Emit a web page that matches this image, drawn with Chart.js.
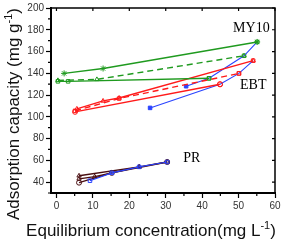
<!DOCTYPE html>
<html>
<head>
<meta charset="utf-8">
<script src="https://cdn.jsdelivr.net/npm/chart.js@4"></script>
<style>
  html, body { margin: 0; padding: 0; background: #fff; }
  #wrap { width: 283px; height: 240px; }
</style>
</head>
<body>
<div id="wrap"><canvas id="chart" width="283" height="240"></canvas></div>
<script>
// tick values
const xTicks = [0, 10, 20, 30, 40, 50, 60];
const yTicks = [40, 60, 80, 100, 120, 140, 160, 180, 200];

// MY10 (green)
const my10Star = [[2.1, 139.9], [12.8, 144.4], [55.1, 168.8]];
const my10Dash = [[0.4, 133.5], [11.1, 134.4], [51.5, 156.1]];
const my10Low = [[0.4, 132.6], [3.2, 132.6], [41.9, 135.4]];

// EBT (red)
const ebtUpper = [[5.6, 107.3], [12.8, 114.6], [17.2, 117.3], [54.0, 151.6]];
const ebtDash = [[5.1, 105.5], [17.2, 116.8], [50.1, 139.9]];
const ebtLow = [[5.1, 104.6], [44.9, 129.9]];

// blue connecting series
const blueLow = [[25.7, 108.2], [44.9, 129.9], [50.1, 139.9], [54.0, 151.6]];
const blueHigh = [[35.6, 128.1], [41.9, 135.4], [51.5, 156.1], [55.1, 168.8]];

// PR (dark brown + blue)
const prTri = [[6.2, 45.8], [22.7, 54.0], [30.4, 58.5]];
const prCirc = [[6.2, 39.5], [15.2, 48.5], [30.4, 58.5]];
const prMid = [[6.2, 43.0], [10.5, 45.0], [22.7, 54.0]];
const prBlue = [[9.2, 41.3], [15.2, 48.5], [22.7, 54.0], [30.4, 58.5]];

const GREEN = '#1f9a1f';
const RED = '#ff1a1a';
const BLUE = '#2a44ff';
const BROWN = '#4a0f12';

function pts(arr) {
    return arr.map(p => ({ x: p[0], y: p[1] }));
}

function series(arr, color, style, opts = {}) {
    return Object.assign({
        data: pts(arr),
        showLine: true,
        borderColor: color,
        backgroundColor: 'rgba(255,255,255,0)',
        pointBorderColor: color,
        pointBackgroundColor: 'rgba(255,255,255,0)',
        pointStyle: style,
        pointRadius: 2.5,
        pointBorderWidth: 1,
        borderWidth: 1.4,
        tension: 0
    }, opts);
}

const datasets = [
    series(my10Star, GREEN, 'star', { pointRadius: 3 }),
    series(my10Dash, GREEN, 'triangle', { borderDash: [6, 4] }),
    series(my10Low, GREEN, 'rect'),
    series(ebtUpper, RED, 'triangle'),
    series(ebtDash, RED, 'rect', { borderDash: [6, 4] }),
    series(ebtLow, RED, 'circle'),
    series(blueLow, BLUE, 'rect', { borderWidth: 1.1, pointRadius: [2.5, 0, 0, 0], pointBackgroundColor: BLUE }),
    series(blueHigh, BLUE, 'rect', { borderWidth: 1.1, pointRadius: [2.5, 0, 0, 0], pointBackgroundColor: BLUE }),
    series(prBlue, BLUE, 'rect', { borderWidth: 1.1 }),
    series(prTri, BROWN, 'triangle'),
    series(prCirc, BROWN, 'circle'),
    series(prMid, BROWN, 'triangle'),
    // end markers drawn on top of blue lines
    series([my10Star[2]], GREEN, 'rect', { showLine: false }),
    series([my10Dash[2], my10Low[2]], GREEN, 'rect', { showLine: false }),
    series([ebtUpper[3], ebtDash[2]], RED, 'rect', { showLine: false }),
    series([ebtLow[1]], RED, 'circle', { showLine: false })
];

const ANN_FONT = '14px "Liberation Serif", "Times New Roman", serif';
const labels = [
    { text: 'MY10', x: 48.5, y: 177.8 },
    { text: 'EBT', x: 50.4, y: 125.4 },
    { text: 'PR', x: 34.8, y: 58.5 }
];

function drawWithSup(ctx, parts, x, y, align) {
    // parts: [main, sup, tail]
    const mainFont = '17px "Liberation Sans", Arial, sans-serif';
    const supFont = '11px "Liberation Sans", Arial, sans-serif';
    ctx.font = mainFont;
    const w0 = ctx.measureText(parts[0]).width;
    const w2 = ctx.measureText(parts[2]).width;
    ctx.font = supFont;
    const w1 = ctx.measureText(parts[1]).width;
    const total = w0 + w1 + w2;
    let sx = align === 'center' ? x - total / 2 : x;
    ctx.textAlign = 'left';
    ctx.textBaseline = 'alphabetic';
    ctx.font = mainFont;
    ctx.fillText(parts[0], sx, y);
    ctx.font = supFont;
    ctx.fillText(parts[1], sx + w0, y - 7);
    ctx.font = mainFont;
    ctx.fillText(parts[2], sx + w0 + w1, y);
}

const decor = {
    id: 'decor',
    afterDraw(chart) {
        const ctx = chart.ctx;
        const a = chart.chartArea;
        const xs = chart.scales.x;
        const ys = chart.scales.y;
        ctx.save();
        ctx.strokeStyle = '#000';
        // top and right border
        ctx.lineWidth = 1.5;
        ctx.beginPath();
        ctx.moveTo(a.left, a.top);
        ctx.lineTo(a.right, a.top);
        ctx.lineTo(a.right, a.bottom);
        ctx.stroke();
        // minor ticks
        ctx.lineWidth = 1.2;
        ctx.beginPath();
        for (let v = 5; v < 60; v += 10) {
            const px = xs.getPixelForValue(v);
            ctx.moveTo(px, a.bottom);
            ctx.lineTo(px, a.bottom + 3);
        }
        for (let v = 30; v < 200; v += 20) {
            const py = ys.getPixelForValue(v);
            ctx.moveTo(a.left, py);
            ctx.lineTo(a.left - 3, py);
        }
        // inner ticks on right and top
        yTicks.forEach(v => {
            const py = ys.getPixelForValue(v);
            ctx.moveTo(a.right, py);
            ctx.lineTo(a.right - 3, py);
        });
        xTicks.forEach(v => {
            const px = xs.getPixelForValue(v);
            ctx.moveTo(px, a.top);
            ctx.lineTo(px, a.top + 3);
        });
        ctx.stroke();

        // series labels
        ctx.fillStyle = '#000';
        ctx.font = ANN_FONT;
        ctx.textAlign = 'left';
        ctx.textBaseline = 'alphabetic';
        labels.forEach(l => {
            ctx.fillText(l.text, xs.getPixelForValue(l.x), ys.getPixelForValue(l.y));
        });

        // axis titles
        ctx.fillStyle = '#111';
        drawWithSup(ctx, ['Equilibrium concentration(mg L', '-1', ')'], 151, 236, 'center');
        ctx.translate(19, 114);
        ctx.rotate(-Math.PI / 2);
        drawWithSup(ctx, ['Adsorption capacity (mg g', '-1', ')'], 0, 0, 'center');
        ctx.restore();
    }
};

const tickFont = { family: '"Liberation Sans", Arial, sans-serif', size: 10 };

new Chart(document.getElementById('chart'), {
    type: 'scatter',
    data: { datasets: datasets },
    options: {
        responsive: false,
        animation: false,
        layout: { padding: { left: 0, right: 8, top: 5, bottom: 0 } },
        plugins: { legend: { display: false }, tooltip: { enabled: false } },
        scales: {
            x: {
                type: 'linear',
                min: -1.5,
                max: 60,
                afterBuildTicks: s => { s.ticks = xTicks.map(v => ({ value: v })); },
                afterFit: s => { s.height = 47; },
                ticks: { color: '#333', font: tickFont, padding: 2, maxRotation: 0 },
                grid: { drawOnChartArea: false, drawTicks: true, tickLength: 5, tickColor: '#000', tickWidth: 1.2 },
                border: { color: '#000', width: 2 }
            },
            y: {
                type: 'linear',
                min: 30,
                max: 200,
                afterBuildTicks: s => { s.ticks = yTicks.map(v => ({ value: v })); },
                afterFit: s => { s.width = 51; },
                ticks: { color: '#333', font: tickFont, padding: 2 },
                grid: { drawOnChartArea: false, drawTicks: true, tickLength: 5, tickColor: '#000', tickWidth: 1.2 },
                border: { color: '#000', width: 2 }
            }
        }
    },
    plugins: [decor]
});
</script>
</body>
</html>
